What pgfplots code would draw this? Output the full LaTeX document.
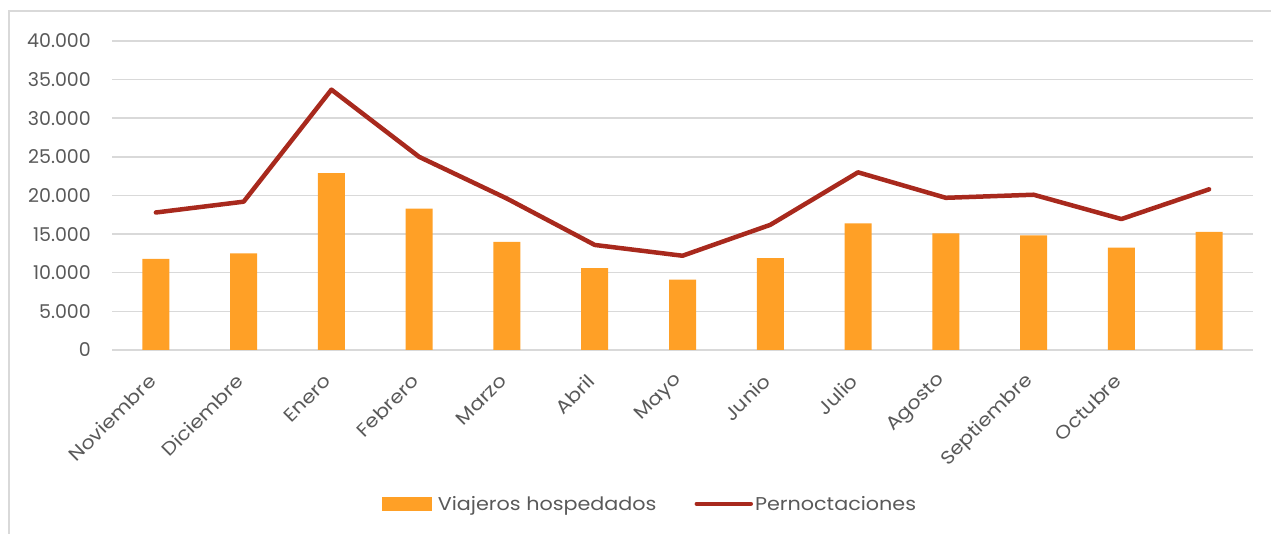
\documentclass[border=0pt]{standalone}
\usepackage{pgfplots}
\pgfplotsset{compat=1.18}
\usepackage{fontspec}
\setmainfont{Poppins}
\newfontfamily\lab[FakeStretch=1.12]{Poppins}
\definecolor{barc}{HTML}{FFA026}
\definecolor{linec}{HTML}{A8291D}
\definecolor{txt}{HTML}{595959}
\definecolor{gridc}{HTML}{D9D9D9}
\begin{document}
\begin{tikzpicture}
\useasboundingbox (0,0) rectangle (1271bp,534bp);
\draw[gridc, line width=1.5bp] (9bp,0bp) -- (9bp,523bp) -- (1271bp,523bp);
\begin{axis}[
  at={(112bp,184bp)}, anchor=south west,
  scale only axis, width=1141bp, height=309bp,
  xmin=-0.5, xmax=12.5, ymin=0, ymax=40000,
  ytick={0,5000,...,40000},
  xtick={0,...,12},
  xticklabels={Noviembre,Diciembre,Enero,Febrero,Marzo,Abril,Mayo,Junio,Julio,Agosto,Septiembre,Octubre,{}},
  scaled y ticks=false,
  /pgf/number format/.cd, 1000 sep={.}, assume math mode=true, /pgfplots/.cd,
  axis line style={draw=none},
  major tick length=0pt,
  ymajorgrids, grid style={gridc, line width=1.5bp},
  yticklabel style={font=\fontsize{19bp}{22bp}\selectfont, text=txt, anchor=east, inner sep=0pt, xshift=-21bp},
  xticklabel style={font=\lab\fontsize{18.5bp}{22bp}\selectfont, text=txt, rotate=45, anchor=east, inner sep=0pt, xshift=-22bp, yshift=-17bp},
  legend style={at={(0.4715,-0.498)}, anchor=center, draw=none, fill=none,
    legend columns=2, font=\lab\fontsize{18.5bp}{22bp}\selectfont, text=txt,
    /tikz/every even column/.append style={column sep=36bp},
    legend cell align=left},
  clip=false,
]
\addplot[ybar, bar width=27bp, fill=barc, draw=none,
  legend image code/.code={\fill[barc] (0bp,-7bp) rectangle (50bp,7bp); \path (54bp,0bp);}]
  coordinates {(0,11800) (1,12500) (2,22900) (3,18300) (4,14000) (5,10600) (6,9100) (7,11900) (8,16400) (9,15100) (10,14850) (11,13250) (12,15300)};
\addlegendentry{Viajeros hospedados}
\addplot[sharp plot, linec, line width=4.5bp, line cap=round, line join=round, mark=none,
  legend image code/.code={\draw[linec, line width=4.5bp, line cap=round] (0bp,0bp) -- (54bp,0bp);}]
  coordinates {(0,17800) (1,19200) (2,33700) (3,25000) (4,19600) (5,13600) (6,12200) (7,16200) (8,23000) (9,19700) (10,20100) (11,16950) (12,20800)};
\addlegendentry{Pernoctaciones}
\end{axis}
\end{tikzpicture}
\end{document}
